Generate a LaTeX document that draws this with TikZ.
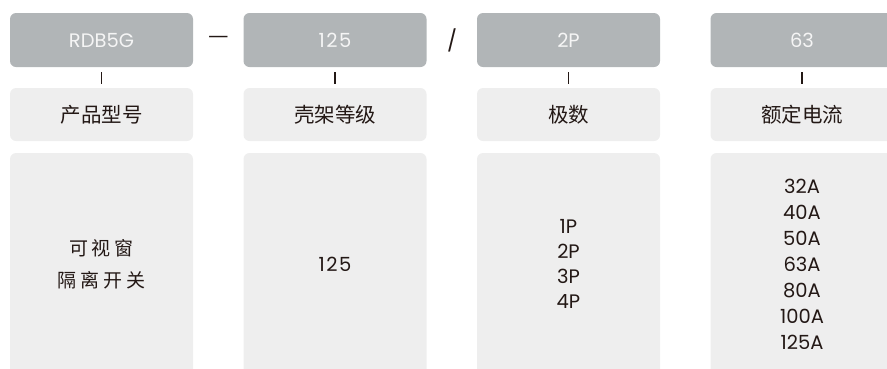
\documentclass[tikz,border=0pt]{standalone}
\usepackage{fontspec}
\setmainfont{Poppins}
\newfontfamily\cjk{Noto Sans CJK SC}
\definecolor{hdr}{HTML}{B1B5B7}
\definecolor{lbl}{HTML}{EEEEEE}
\definecolor{ink}{HTML}{231815}
\tikzset{
  hdrbox/.style={fill=hdr, rounded corners=6pt, minimum width=183pt, minimum height=54pt, inner sep=0pt, text=white!96!black, font=\fontsize{19.5}{22}\selectfont},
  lblbox/.style={fill=lbl, rounded corners=6pt, minimum width=183pt, minimum height=53pt, inner sep=0pt, text=ink, font=\cjk\fontsize{20.5}{24}\selectfont},
  valbox/.style={fill=lbl, rounded corners=6pt, minimum width=183pt, minimum height=222pt, inner sep=0pt, text=ink, align=center},
  tickline/.style={draw=ink, line width=1.5pt},
  sep/.style={text=ink, inner sep=0pt},
}
\begin{document}
\begin{tikzpicture}[x=1pt,y=-1pt]
\useasboundingbox (0,0) rectangle (887,368);
\clip (0,0) rectangle (887,368);
% headers
\node[hdrbox] (h1) at (101.5,40) {RDB5G};
\node[hdrbox] (h2) at (335,40) {1\kern1.5pt2\kern1.5pt5};
\node[hdrbox] (h3) at (568.5,40) {2P};
\node[hdrbox] (h4) at (802,40) {63};
% separators
\node[sep, font=\cjk\fontsize{23}{24}\selectfont] (dash) at (218.5,40) {—};
\node[sep, font=\fontsize{21}{24}\selectfont] (slash) at (452,40) {/};
% labels
\node[lblbox] (l1) at (101.5,114.5) {产品型号};
\node[lblbox] (l2) at (335,114.5) {壳架等级};
\node[lblbox] (l3) at (568.5,114.5) {极数};
\node[lblbox] (l4) at (802,114.5) {额定电流};
% ticks
\foreach \i in {1,2,3,4} {
  \draw[tickline] ([yshift=-5pt]h\i.south) -- ([yshift=4pt]l\i.north);
}
% values
\node[valbox, font=\cjk\fontsize{19}{32}\selectfont] (v1) at (101.5,264) {可\kern4pt视\kern4pt窗\\隔\kern4pt离\kern4pt开\kern4pt关};
\node[valbox, font=\fontsize{19.5}{25}\selectfont] (v2) at (335,264) {1\kern1.5pt2\kern1.5pt5};
\node[valbox, font=\fontsize{19.5}{25}\selectfont] (v3) at (568.5,264) {1P\\2P\\3P\\4P};
\node[valbox, font=\fontsize{19.5}{26}\selectfont] (v4) at (802,264) {32A\\40A\\50A\\63A\\80A\\100A\\125A};
\end{tikzpicture}
\end{document}
